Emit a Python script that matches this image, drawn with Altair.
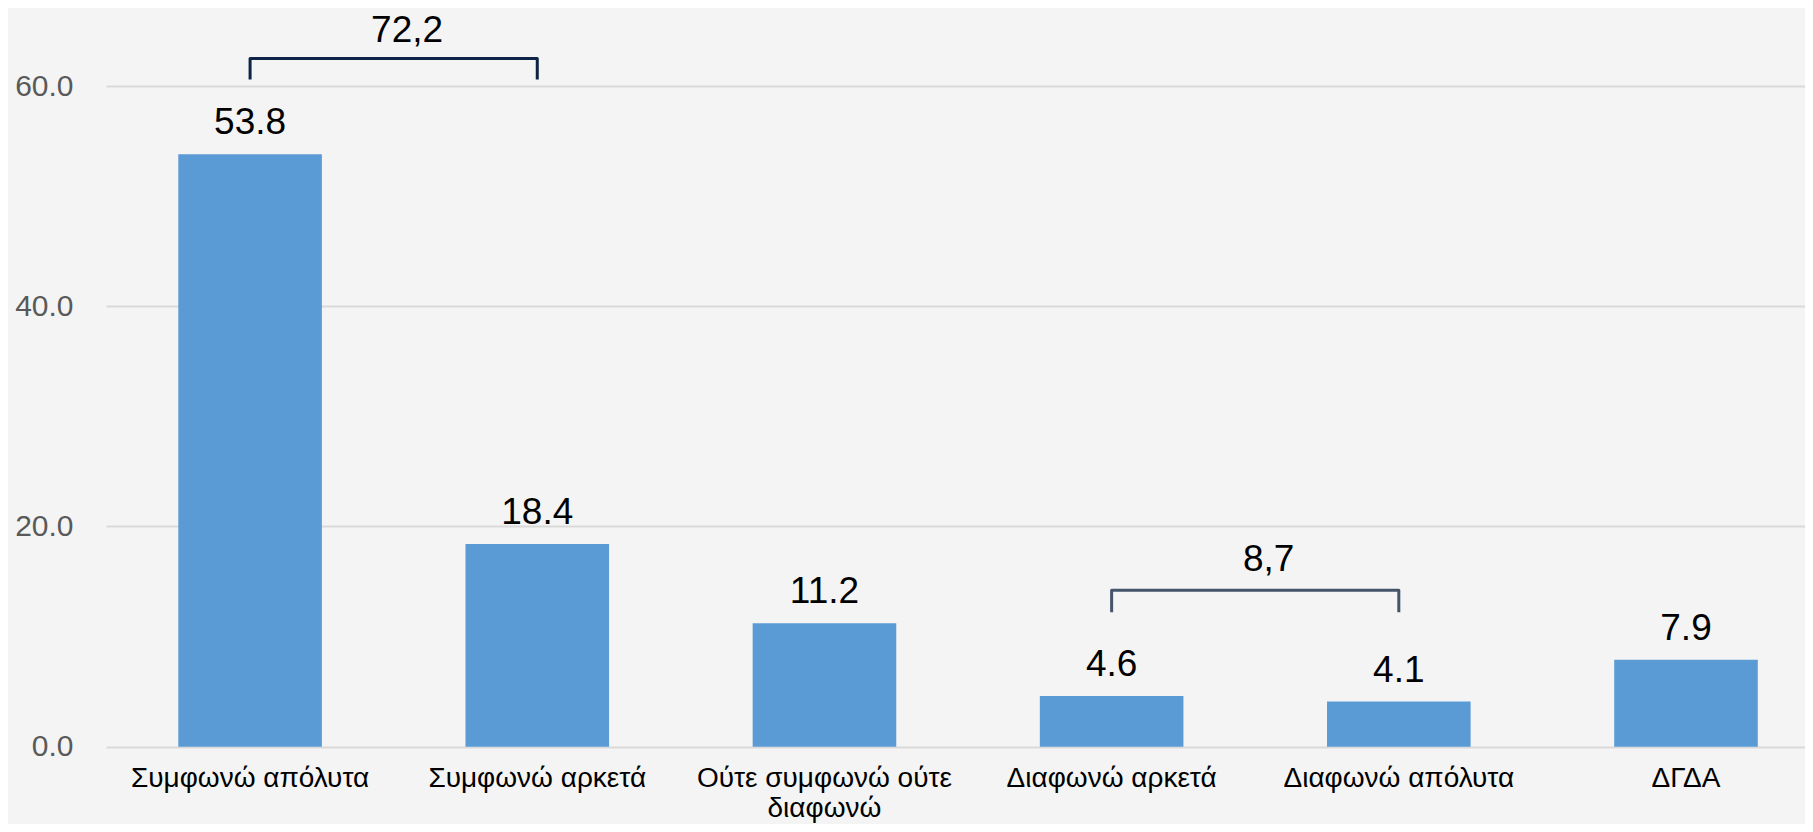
import altair as alt
import pandas as pd

categories = ["Συμφωνώ απόλυτα", "Συμφωνώ αρκετά", "Ούτε συμφωνώ ούτε διαφωνώ",
              "Διαφωνώ αρκετά", "Διαφωνώ απόλυτα", "ΔΓΔΑ"]
values = [53.8, 18.4, 11.2, 4.6, 4.1, 7.9]

# brackets grouping categories (sum labels)
bracket_ids = ["b1", "b2"]
bracket_from = ["Συμφωνώ απόλυτα", "Διαφωνώ αρκετά"]
bracket_to = ["Συμφωνώ αρκετά", "Διαφωνώ απόλυτα"]
bracket_labels = ["72,2", "8,7"]
bracket_top = [62.5, 14.2]
bracket_foot = [60.6, 12.2]
bracket_label_y = [64.0, 16.0]
bracket_colors = ["#0e2345", "#44546a"]

wrap = {"Ούτε συμφωνώ ούτε διαφωνώ": ["Ούτε συμφωνώ ούτε", "διαφωνώ"]}

df = pd.DataFrame({"cat": categories, "value": values})

rows = []
for b, f, t, top, foot in zip(bracket_ids, bracket_from, bracket_to, bracket_top, bracket_foot):
    rows += [
        {"bracket": b, "cat": f, "y": foot, "ord": 0},
        {"bracket": b, "cat": f, "y": top, "ord": 1},
        {"bracket": b, "cat": t, "y": top, "ord": 2},
        {"bracket": b, "cat": t, "y": foot, "ord": 3},
    ]
bdf = pd.DataFrame(rows)
ldf = pd.DataFrame({"bracket": bracket_ids, "cat": bracket_from,
                    "label": bracket_labels, "y": bracket_label_y})

label_expr = " : ".join(
    [f"datum.label == '{k}' ? {v!r}" for k, v in wrap.items()] + ["datum.label"]
)

FONT = "Liberation Sans"

xscale = alt.Scale(domain=categories, paddingInner=0.5, paddingOuter=0.208, align=0.605)
yscale = alt.Scale(domain=[0, 67], nice=False, zero=True)

x = alt.X("cat:N", scale=xscale, sort=categories, title=None,
          axis=alt.Axis(labelAngle=0, ticks=False, domain=False, grid=False,
                        labelFontSize=28, labelColor="#000000", labelFont=FONT,
                        labelPadding=18, labelLineHeight=30, labelLimit=0,
                        labelExpr=label_expr))
y = alt.Y("value:Q", scale=yscale, title=None,
          axis=alt.Axis(values=[0, 20, 40, 60], format=".1f", ticks=False, domain=False,
                        grid=True, gridColor="#d9d9d9", gridWidth=2,
                        labelFontSize=30, labelColor="#595959", labelFont=FONT,
                        labelPadding=33))

base = alt.Chart(df)
bars = base.mark_bar(color="#5b9bd5").encode(x=x, y=y)
texts = base.mark_text(fontSize=37, font=FONT, color="#000000", baseline="alphabetic",
                       dy=-20).encode(x=alt.X("cat:N", scale=xscale, sort=categories),
                                      y=alt.Y("value:Q", scale=yscale),
                                      text=alt.Text("value:Q", format=".1f"))

cscale = alt.Scale(domain=bracket_ids, range=bracket_colors)
brackets = alt.Chart(bdf).mark_line(strokeWidth=3, strokeJoin="round", strokeCap="butt").encode(
    x=alt.X("cat:N", scale=xscale, sort=categories),
    y=alt.Y("y:Q", scale=yscale),
    color=alt.Color("bracket:N", scale=cscale, legend=None),
    order=alt.Order("ord:Q"),
)
blabels = alt.Chart(ldf).mark_text(fontSize=37, font=FONT, color="#000000",
                                   baseline="alphabetic", dx=157).encode(
    x=alt.X("cat:N", scale=xscale, sort=categories),
    y=alt.Y("y:Q", scale=yscale),
    text="label:N",
)

chart = alt.layer(bars, texts, brackets, blabels).properties(
    width=1699, height=737.7,
    autosize=alt.AutoSizeParams(type="none"),
    padding={"left": 98, "top": 1, "right": 0, "bottom": 77},
    background="#f4f4f4",
).configure_view(stroke=None)

chart.save("out.html", embed_options={"renderer": "svg", "actions": False})
